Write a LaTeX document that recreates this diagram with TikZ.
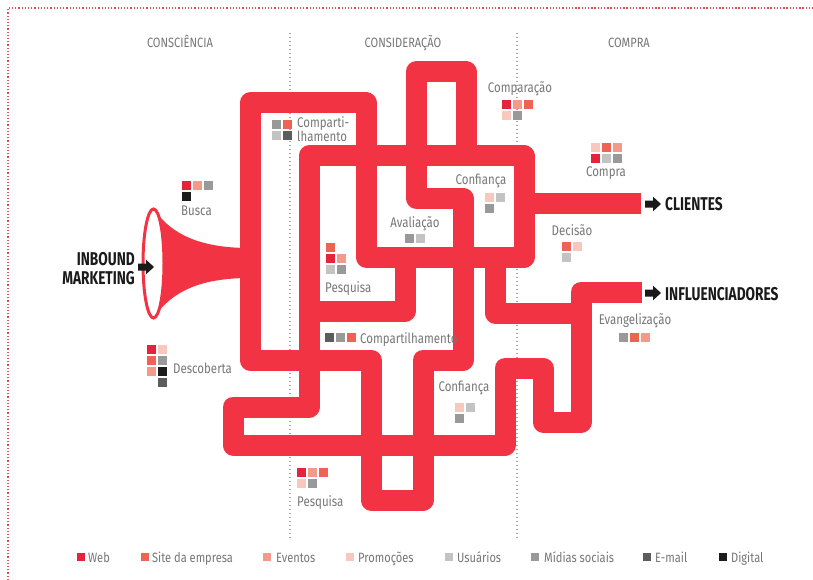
\documentclass[tikz,border=0pt]{standalone}
\usepackage{fontspec}
\setmainfont{Fira Sans}[FakeStretch=0.82]
\newfontfamily\heavyfont{Fira Sans}[FakeStretch=0.74]
\definecolor{pipered}{HTML}{F23343}
\definecolor{cweb}{HTML}{E3243A}
\definecolor{csite}{HTML}{EE6352}
\definecolor{ceventos}{HTML}{F49A8A}
\definecolor{cpromo}{HTML}{F8C8BD}
\definecolor{cusuarios}{HTML}{C3C3C3}
\definecolor{cmidias}{HTML}{999999}
\definecolor{cemail}{HTML}{5C5C5C}
\definecolor{cdigital}{HTML}{1C1C1C}
\definecolor{labelgray}{HTML}{777777}
\definecolor{ink}{HTML}{1A1A1A}
\definecolor{framered}{HTML}{E0505C}
\tikzset{
  pipe/.style={draw=pipered, line width=21pt, line join=round, line cap=butt},
  lbl/.style={font=\fontsize{14}{14}\selectfont, text=labelgray, inner sep=0pt, anchor=base},
  lbll/.style={lbl, anchor=base west},
  head/.style={font=\fontsize{13.5}{13.5}\selectfont, text=labelgray, inner sep=0pt, anchor=base},
  bigtag/.style={font=\heavyfont\bfseries\fontsize{18.5}{18.5}\selectfont, text=ink, inner sep=0pt},
  legtext/.style={font=\fontsize{13.5}{13.5}\selectfont, text=labelgray, inner sep=0pt, anchor=base west},
  divider/.style={draw=gray!70, line width=1.4pt, dash pattern=on 1.4pt off 2.6pt},
  framedots/.style={draw=framered, line width=1.4pt, dash pattern=on 1.3pt off 1.9pt}
}
% one coloured tile of a channel marker: top-left corner, colour
\newcommand\tile[3]{\fill[#3] (#1,#2) rectangle ++(9,9);}
% small legend tile
\newcommand\legtile[2]{\fill[#2] (#1,553) rectangle ++(8,8);}
% black block arrow pointing right, starting at (x,y)
\newcommand\blockarrow[2]{\fill[ink] (#1,#2) ++(0,-3.5) -- ++(8,0) -- ++(0,-3.8) -- ++(8,7.3) -- ++(-8,7.3) -- ++(0,-3.8) -- ++(-8,0) -- cycle;}
\begin{document}
\begin{tikzpicture}[x=1pt,y=-1pt]
\useasboundingbox (0,0) rectangle (813,580);
\fill[white] (0,0) rectangle (813,580);

% dotted frame
\draw[framedots] (8,580) -- (8,8) -- (813,8);

% stage dividers
\draw[divider] (290,33) -- (290,538);
\draw[divider] (517,33) -- (517,538);

% stage headings
\node[head] (hA) at (180,48) {CONSCIÊNCIA};
\node[head] (hB) at (403,48) {CONSIDERAÇÃO};
\node[head] (hC) at (629,48) {COMPRA};

% the maze of pipes
\draw[pipe] (466,156) -- (466,72) -- (416,72) -- (416,198) -- (463,198) -- (463,360)
  -- (423,360) -- (423,500) -- (371,500) -- (371,360) -- (250,360) -- (250,103)
  -- (366,103) -- (366,257) -- (524,257) -- (524,156) -- (309,156) -- (309,407)
  -- (233,407) -- (233,445) -- (505,445) -- (505,368) -- (543,368) -- (543,422)
  -- (581,422) -- (581,292) -- (642,292);
\draw[pipe] (405,257) -- (405,311) -- (309,311);
\draw[pipe] (495,257) -- (495,313) -- (581,313);
\draw[pipe] (524,203) -- (641,203);

% funnel
\fill[pipered] (153.5,209) .. controls (172,235) and (200,247) .. (245,248)
  -- (245,278) .. controls (200,279) and (172,291) .. (153.5,318) -- cycle;
\filldraw[fill=white, draw=pipered, line width=3pt] (153.5,263.5) ellipse [x radius=10.5pt, y radius=54.5pt];

% entry and exit tags
\node[bigtag, anchor=base east] (tIn1) at (135,265) {INBOUND};
\node[bigtag, anchor=base east] (tIn2) at (135,284) {MARKETING};
\blockarrow{138}{267}
\blockarrow{645}{204}
\blockarrow{645}{293}
\node[bigtag, anchor=base west] (tCli) at (665,210) {CLIENTES};
\node[bigtag, anchor=base west] (tInf) at (665,300) {INFLUENCIADORES};

% Busca
\tile{182}{181}{cweb}\tile{193}{181}{ceventos}\tile{204}{181}{cmidias}
\tile{182}{192}{cdigital}
\node[lbll] (lBusca) at (181,215) {Busca};

% Descoberta
\tile{147}{345}{cweb}\tile{158}{345}{cpromo}
\tile{147}{356}{csite}\tile{158}{356}{cmidias}
\tile{147}{367}{ceventos}\tile{158}{367}{cdigital}
\tile{158}{378}{cemail}
\node[lbll] (lDesc) at (173,373) {Descoberta};

% Compartilhamento (top)
\tile{272}{120}{cmidias}\tile{283}{120}{csite}
\tile{272}{131}{cusuarios}\tile{283}{131}{cemail}
\node[lbll] (lComp1) at (297,128) {Comparti-};
\node[lbll] (lComp2) at (297,142) {lhamento};

% Comparacao
\node[lbl] (lCompar) at (520,93) {Comparação};
\tile{502}{100}{cweb}\tile{513}{100}{ceventos}\tile{524}{100}{csite}
\tile{502}{111}{cpromo}\tile{513}{111}{cmidias}

% Compra
\tile{591}{143}{cpromo}\tile{602}{143}{csite}\tile{613}{143}{ceventos}
\tile{591}{154}{cweb}\tile{602}{154}{cusuarios}\tile{613}{154}{cmidias}
\node[lbl] (lCompra) at (606,177) {Compra};

% Confianca (upper)
\node[lbl] (lConf1) at (481,184) {Confiança};
\tile{485}{193}{cpromo}\tile{496}{193}{cusuarios}
\tile{485}{204}{cmidias}

% Avaliacao
\node[lbl] (lAval) at (415,227) {Avaliação};
\tile{405}{234}{cmidias}\tile{416}{234}{cusuarios}

% Decisao
\node[lbl] (lDec) at (572,235) {Decisão};
\tile{562}{242}{csite}\tile{573}{242}{cpromo}
\tile{562}{253}{cusuarios}

% Pesquisa (upper)
\tile{326}{243}{csite}
\tile{326}{254}{cweb}\tile{337}{254}{ceventos}
\tile{326}{265}{cusuarios}\tile{337}{265}{cmidias}
\node[lbll] (lPesq1) at (325,292) {Pesquisa};

% Compartilhamento (middle)
\tile{325}{333}{cemail}\tile{336}{333}{cmidias}\tile{347}{333}{csite}
\node[lbll] (lComp3) at (360,343) {Compartilhamento};

% Confianca (lower)
\node[lbl] (lConf2) at (464,391) {Confiança};
\tile{455}{403}{cpromo}\tile{466}{403}{cusuarios}
\tile{455}{414}{cmidias}

% Evangelizacao
\node[lbl] (lEvan) at (635,324) {Evangelização};
\tile{619}{333}{cmidias}\tile{630}{333}{csite}\tile{641}{333}{ceventos}

% Pesquisa (lower)
\tile{297}{468}{cweb}\tile{308}{468}{ceventos}\tile{319}{468}{csite}
\tile{297}{479}{cpromo}\tile{308}{479}{cmidias}
\node[lbll] (lPesq2) at (297,506) {Pesquisa};

% legend
\legtile{77}{cweb}      \node[legtext] (g1) at (88,562) {Web};
\legtile{141}{csite}    \node[legtext] (g2) at (152,562) {Site da empresa};
\legtile{263}{ceventos} \node[legtext] (g3) at (276,562) {Eventos};
\legtile{346}{cpromo}   \node[legtext] (g4) at (358,562) {Promoções};
\legtile{445}{cusuarios}\node[legtext] (g5) at (457,562) {Usuários};
\legtile{531}{cmidias}  \node[legtext] (g6) at (544,562) {Mídias sociais};
\legtile{643}{cemail}   \node[legtext] (g7) at (655,562) {E-mail};
\legtile{719}{cdigital} \node[legtext] (g8) at (731,562) {Digital};
\end{tikzpicture}
\end{document}
